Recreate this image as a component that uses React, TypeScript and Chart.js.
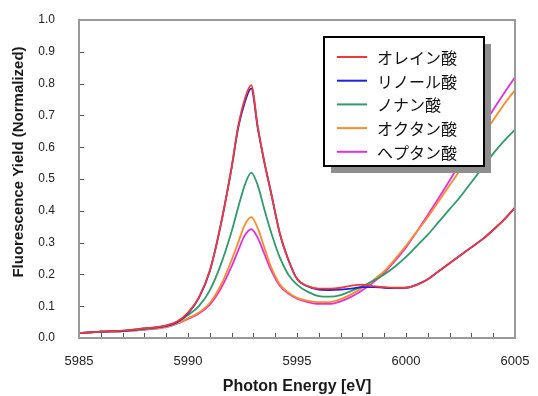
import React, { useEffect, useRef } from "react";
import { Chart, registerables } from "chart.js";

Chart.register(...registerables);

// Photon energy (eV), shared by all series
const energies = [
  5985, 5986, 5987, 5988, 5989, 5989.5, 5990, 5990.5, 5991, 5991.5,
  5992, 5992.3, 5992.6, 5992.9, 5993.2, 5993.5, 5993.8, 5994.2, 5994.6, 5995,
  5995.5, 5996, 5996.5, 5997, 5997.5, 5998, 5998.5, 5999, 5999.5, 6000,
  6000.5, 6001, 6001.5, 6002, 6002.5, 6003, 6003.5, 6004, 6004.5, 6005,
];

const oleic = [
  0.015, 0.02, 0.023, 0.03, 0.04, 0.052, 0.08, 0.128, 0.212, 0.355,
  0.537, 0.665, 0.75, 0.795, 0.665, 0.555, 0.46, 0.332, 0.247, 0.186,
  0.163, 0.155, 0.155, 0.158, 0.165, 0.168, 0.163, 0.16, 0.158, 0.158,
  0.167, 0.185, 0.21, 0.235, 0.26, 0.285, 0.31, 0.34, 0.372, 0.41,
];

const linoleic = [
  0.015, 0.02, 0.022, 0.03, 0.038, 0.05, 0.077, 0.126, 0.21, 0.355,
  0.535, 0.66, 0.74, 0.785, 0.66, 0.553, 0.46, 0.332, 0.247, 0.186,
  0.162, 0.152, 0.151, 0.152, 0.155, 0.16, 0.16, 0.158, 0.157, 0.158,
  0.168, 0.185, 0.21, 0.235, 0.26, 0.285, 0.31, 0.34, 0.372, 0.41,
];

const nonanoic = [
  0.015, 0.02, 0.022, 0.028, 0.038, 0.05, 0.072, 0.10, 0.15, 0.23,
  0.335, 0.41, 0.48, 0.52, 0.48, 0.405, 0.335, 0.255, 0.20, 0.168,
  0.145, 0.132, 0.13, 0.135, 0.148, 0.163, 0.18, 0.2, 0.225, 0.255,
  0.29, 0.325, 0.365, 0.405, 0.445, 0.49, 0.535, 0.58, 0.62, 0.655,
];

const octanoic = [
  0.015, 0.02, 0.022, 0.027, 0.035, 0.046, 0.062, 0.08, 0.11, 0.165,
  0.245, 0.30, 0.355, 0.38, 0.345, 0.285, 0.225, 0.17, 0.143, 0.126,
  0.117, 0.113, 0.113, 0.122, 0.138, 0.158, 0.182, 0.21, 0.248, 0.29,
  0.335, 0.38, 0.43, 0.48, 0.53, 0.583, 0.635, 0.685, 0.735, 0.78,
];

const heptanoic = [
  0.015, 0.02, 0.022, 0.026, 0.034, 0.045, 0.06, 0.077, 0.105, 0.155,
  0.225, 0.275, 0.322, 0.342, 0.315, 0.265, 0.215, 0.165, 0.14, 0.124,
  0.113, 0.107, 0.107, 0.115, 0.13, 0.15, 0.175, 0.205, 0.243, 0.285,
  0.335, 0.387, 0.44, 0.495, 0.552, 0.607, 0.662, 0.718, 0.77, 0.82,
];

const seriesLabels = ["オレイン酸", "リノール酸", "ノナン酸", "オクタン酸", "ヘプタン酸"];
const seriesValues = [oleic, linoleic, nonanoic, octanoic, heptanoic];
const seriesColors = ["#ee3a3a", "#2020dd", "#2f9a6a", "#ff8a2a", "#e030e0"];

const xTicks = [5985, 5990, 5995, 6000, 6005];
const yTicks = [0, 0.1, 0.2, 0.3, 0.4, 0.5, 0.6, 0.7, 0.8, 0.9, 1.0];
const xMinorStep = 1;

const xTitle = "Photon Energy [eV]";
const yTitle = "Fluorescence Yield (Normalized)";

const framePlugin = {
  id: "frameTicks",
  afterDatasetsDraw(chart: any) {
    const { ctx, chartArea: a, scales } = chart;
    ctx.save();
    ctx.strokeStyle = "#555";
    ctx.lineWidth = 1;
    for (let e = xTicks[0]; e <= xTicks[xTicks.length - 1]; e += xMinorStep) {
      const px = Math.round(scales.x.getPixelForValue(e)) + 0.5;
      ctx.beginPath();
      ctx.moveTo(px, a.bottom);
      ctx.lineTo(px, a.bottom - 5);
      ctx.stroke();
    }
    for (const v of yTicks) {
      const py = Math.round(scales.y.getPixelForValue(v)) + 0.5;
      ctx.beginPath();
      ctx.moveTo(a.left, py);
      ctx.lineTo(a.left + 5, py);
      ctx.stroke();
    }
    ctx.strokeStyle = "#9a9a9a";
    ctx.lineWidth = 2;
    ctx.strokeRect(a.left, a.top, a.right - a.left, a.bottom - a.top);
    ctx.restore();
  },
};

const yTitlePlugin = {
  id: "yTitle",
  afterDraw(chart: any) {
    const { ctx } = chart;
    ctx.save();
    ctx.translate(19, 162);
    ctx.rotate(-Math.PI / 2);
    ctx.font = 'bold 15px "Liberation Sans", Arial, sans-serif';
    ctx.fillStyle = "#1a1a1a";
    ctx.textAlign = "center";
    ctx.textBaseline = "middle";
    ctx.fillText(yTitle, 0, 0);
    ctx.restore();
  },
};

const boxLegendPlugin = {
  id: "boxLegend",
  afterDraw(chart: any) {
    const { ctx } = chart;
    const bx = 324, by = 37, bw = 160, bh = 129;
    ctx.save();
    ctx.fillStyle = "#8e8e8e";
    ctx.fillRect(bx + 7, by + 7, bw, bh);
    ctx.fillStyle = "#ffffff";
    ctx.fillRect(bx, by, bw, bh);
    ctx.strokeStyle = "#000";
    ctx.lineWidth = 2;
    ctx.strokeRect(bx, by, bw, bh);
    ctx.font = '16px "Noto Sans CJK JP", sans-serif';
    ctx.textBaseline = "middle";
    ctx.textAlign = "left";
    chart.data.datasets.forEach((ds: any, i: number) => {
      const y = 57 + i * 23.7;
      ctx.strokeStyle = ds.borderColor;
      ctx.lineWidth = 2;
      ctx.beginPath();
      ctx.moveTo(337, y);
      ctx.lineTo(367, y);
      ctx.stroke();
      ctx.fillStyle = "#111";
      ctx.fillText(ds.label, 377, y + 1);
    });
    ctx.restore();
  },
};

export default function App() {
  const canvasRef = useRef<HTMLCanvasElement | null>(null);

  useEffect(() => {
    if (!canvasRef.current) return;
    const datasets = seriesLabels.map((label, i) => ({
      label,
      data: energies.map((e, j) => ({ x: e, y: seriesValues[i][j] })),
      borderColor: seriesColors[i],
      backgroundColor: seriesColors[i],
      borderWidth: 1.8,
      pointRadius: 0,
      fill: false,
      cubicInterpolationMode: "monotone" as const,
    }));
    const chart = new Chart(canvasRef.current, {
      type: "line",
      data: { datasets },
      options: {
        animation: false,
        responsive: false,
        maintainAspectRatio: false,
        layout: { autoPadding: false, padding: { top: 20, right: 23, left: 0, bottom: 0 } },
        plugins: { legend: { display: false }, tooltip: { enabled: false }, title: { display: false } },
        scales: {
          x: {
            type: "linear",
            min: xTicks[0],
            max: xTicks[xTicks.length - 1],
            afterFit: (s: any) => { s.height = 58; s.paddingLeft = 0; s.paddingRight = 0; },
            afterBuildTicks: (s: any) => { s.ticks = xTicks.map((v) => ({ value: v })); },
            grid: { display: false, drawTicks: false },
            border: { display: false },
            ticks: {
              padding: 16,
              maxRotation: 0,
              color: "#222",
              font: { family: '"Liberation Sans", Arial, sans-serif', size: 13 },
              callback: (v: any) => String(v),
            },
            title: {
              display: true,
              text: xTitle,
              color: "#1a1a1a",
              padding: { top: 0, bottom: 0 },
              font: { family: '"Liberation Sans", Arial, sans-serif', size: 16, weight: "bold" },
            },
          },
          y: {
            type: "linear",
            min: 0,
            max: 1,
            afterFit: (s: any) => { s.width = 79; s.paddingTop = 0; s.paddingBottom = 0; },
            afterBuildTicks: (s: any) => { s.ticks = yTicks.map((v) => ({ value: v })); },
            grid: { display: false, drawTicks: false },
            border: { display: false },
            ticks: {
              padding: 24,
              color: "#222",
              font: { family: '"Liberation Sans", Arial, sans-serif', size: 12 },
              callback: (v: any) => Number(v).toFixed(1),
            },
          },
        },
      },
      plugins: [framePlugin, yTitlePlugin, boxLegendPlugin],
    });
    return () => chart.destroy();
  }, []);

  return (
    <div style={{ position: "fixed", left: 0, top: 0, width: 538, height: 396, background: "#fff" }}>
      <canvas ref={canvasRef} width={538} height={396} style={{ display: "block" }} />
    </div>
  );
}
